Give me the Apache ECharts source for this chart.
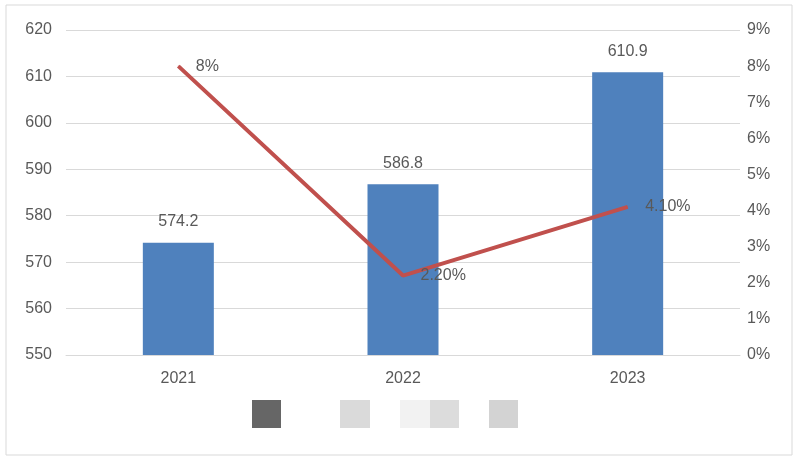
<!DOCTYPE html>
<html>
<head>
<meta charset="utf-8">
<script src="https://cdn.jsdelivr.net/npm/echarts@6/dist/echarts.min.js"></script>
<style>
  html, body { margin: 0; padding: 0; background: #fff; }
  #chart { width: 800px; height: 465px; }
</style>
</head>
<body>
<div id="chart"></div>
<script>
// data
const years = ['2021', '2022', '2023']
const amounts = [574.2, 586.8, 610.9]
const growth = [8, 2.2, 4.1]
const growthLabels = ['8%', '2.20%', '4.10%']

const textColor = '#595959'
const font = 'Liberation Sans'

const chart = echarts.init(document.getElementById('chart'))

const option = {
  animation: false,
  textStyle: { fontFamily: font },
  grid: { left: 66, right: 60, top: 30, bottom: 110 },
  graphic: [
    // outer frame
    { type: 'rect', shape: { x: 6, y: 5, width: 786, height: 450 }, style: { fill: 'none', stroke: '#d9d9d9', lineWidth: 1 } },
    // blurred legend patch
    { type: 'rect', shape: { x: 252, y: 400, width: 29, height: 28 }, style: { fill: '#666666' } },
    { type: 'rect', shape: { x: 340, y: 400, width: 30, height: 28 }, style: { fill: '#dadada' } },
    { type: 'rect', shape: { x: 430, y: 400, width: 29, height: 28 }, style: { fill: '#dcdcdc' } },
    { type: 'rect', shape: { x: 489, y: 400, width: 29, height: 28 }, style: { fill: '#d3d3d3' } },
    { type: 'rect', shape: { x: 400, y: 400, width: 30, height: 28 }, style: { fill: '#f2f2f2' } },
  ],
  xAxis: {
    type: 'category',
    data: years,
    axisTick: { show: false },
    axisLine: { lineStyle: { color: '#d9d9d9' } },
    axisLabel: { color: textColor, fontSize: 16, margin: 16 },
  },
  yAxis: [
    {
      type: 'value',
      min: 550,
      max: 620,
      interval: 10,
      axisLine: { show: false },
      axisTick: { show: false },
      splitLine: { lineStyle: { color: '#d9d9d9' } },
      axisLabel: { color: textColor, fontSize: 16, margin: 14 },
    },
    {
      type: 'value',
      min: 0,
      max: 9,
      interval: 1,
      axisLine: { show: false },
      axisTick: { show: false },
      splitLine: { show: false },
      axisLabel: { color: textColor, fontSize: 16, margin: 7, formatter: '{value}%' },
    },
  ],
  series: [
    {
      type: 'bar',
      data: amounts,
      barWidth: 71,
      itemStyle: { color: '#4f81bd' },
      label: { show: true, position: 'top', distance: 13, color: textColor, fontSize: 16 },
    },
    {
      type: 'line',
      yAxisIndex: 1,
      data: growth,
      symbol: 'circle',
      symbolSize: 1,
      showSymbol: true,
      lineStyle: { color: '#c0504d', width: 4 },
      itemStyle: { color: '#c0504d' },
      label: {
        show: true,
        position: 'right',
        distance: 17,
        color: textColor,
        fontSize: 16,
        formatter: (p) => growthLabels[p.dataIndex],
      },
    },
  ],
}

chart.setOption(option)
</script>
</body>
</html>
